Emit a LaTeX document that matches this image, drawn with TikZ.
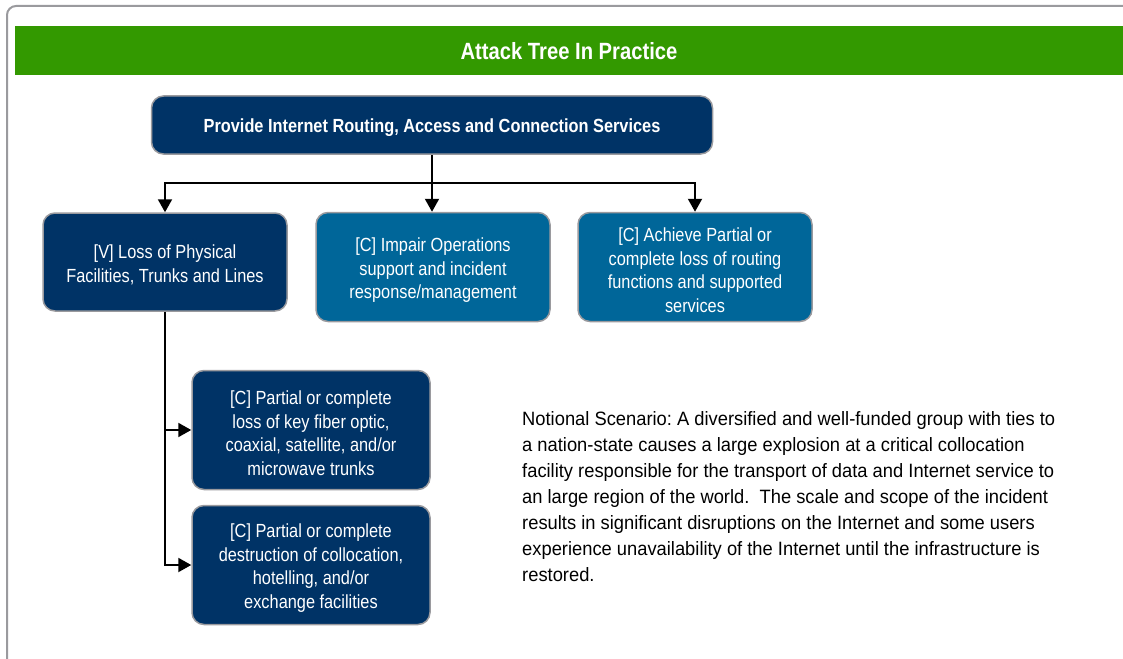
\documentclass[tikz,border=0pt]{standalone}
\usepackage{fontspec}
\setmainfont{Liberation Sans}
\newfontfamily\narrowfont[FakeStretch=0.86]{Liberation Sans}
\newfontfamily\scenefont[FakeStretch=0.95]{Liberation Sans}
\usepackage{xcolor}
\usepackage{tikz}
\usetikzlibrary{arrows.meta,positioning}
\frenchspacing

\definecolor{navy}{HTML}{003366}
\definecolor{steel}{HTML}{006699}
\definecolor{headgreen}{HTML}{339900}
\definecolor{rim}{HTML}{9A9A9E}

% extra room above the first line of a box
\newcommand{\toproom}{\rule{0pt}{20pt}}

\tikzset{
  box/.style={draw=rim, line width=1.5pt, rounded corners=12pt, text=white,
    align=center, inner sep=0pt,
    font=\narrowfont\fontsize{19}{23.8}\selectfont},
  vbox/.style={box, fill=navy},
  cbox/.style={box, fill=steel},
  link/.style={line width=2pt, -{Triangle[width=14pt,length=13pt]}},
  wire/.style={line width=2pt},
}

\begin{document}
\begin{tikzpicture}[x=1pt,y=-1pt]
  \useasboundingbox (0,0) rectangle (1123,658);

% frame and title bar
\draw[rim, line width=2pt, rounded corners=9pt] (7,6) rectangle (1150,690);
\fill[headgreen] (15,26) rectangle (1150,75);
\node[text=white, font=\narrowfont\bfseries\fontsize{23.5}{28}\selectfont] (title) at (569,51) {Attack Tree In Practice};

% root of the tree
\node[vbox, minimum width=561pt, minimum height=58pt,
  font=\narrowfont\bfseries\fontsize{19}{24}\selectfont] (root) at (432,125) {\toproom Provide Internet Routing, Access and Connection Services};

% first level
\node[vbox, minimum width=244pt, minimum height=98pt] (lossV) at (165,262) {\toproom[V] Loss of Physical\\Facilities, Trunks and Lines};
\node[cbox, minimum width=234pt, minimum height=109pt] (impair) at (433,267) {\toproom[C] Impair Operations\\support and incident\\response/management};
\node[cbox, minimum width=234pt, minimum height=109pt] (achieve) at (695,267) {\toproom[C] Achieve Partial or\\complete loss of routing\\functions and supported\\services};

% second level
\node[vbox, minimum width=238pt, minimum height=119pt] (trunks) at (311,430) {\toproom[C] Partial or complete\\loss of key fiber optic,\\coaxial, satellite, and/or\\microwave trunks};
\node[vbox, minimum width=238pt, minimum height=119pt] (colloc) at (311,565) {\toproom[C] Partial or complete\\destruction of collocation,\\hotelling, and/or\\exchange facilities};

% connectors
\coordinate (fork) at (432,183);
\draw[wire] (root.south) -- (fork);
\draw[link] (fork) -| (lossV.north);
\draw[link] (fork) -- (impair.north -| fork);
\draw[link] (fork) -| (achieve.north);
\draw[link] (lossV.south) |- (trunks.west);
\draw[link] (lossV.south) |- (colloc.west);

% scenario text
\node[anchor=north west, align=left, inner sep=0pt,
  font=\scenefont\fontsize{19.3}{26.1}\selectfont] (scenario) at (522,411) {Notional Scenario: A diversified and well-funded group with ties to\\a nation-state causes a large explosion at a critical collocation\\facility responsible for the transport of data and Internet service to\\an large region of the world.\ \ The scale and scope of the incident\\results in significant disruptions on the Internet and some users\\experience unavailability of the Internet until the infrastructure is\\restored.};

\end{tikzpicture}
\end{document}
